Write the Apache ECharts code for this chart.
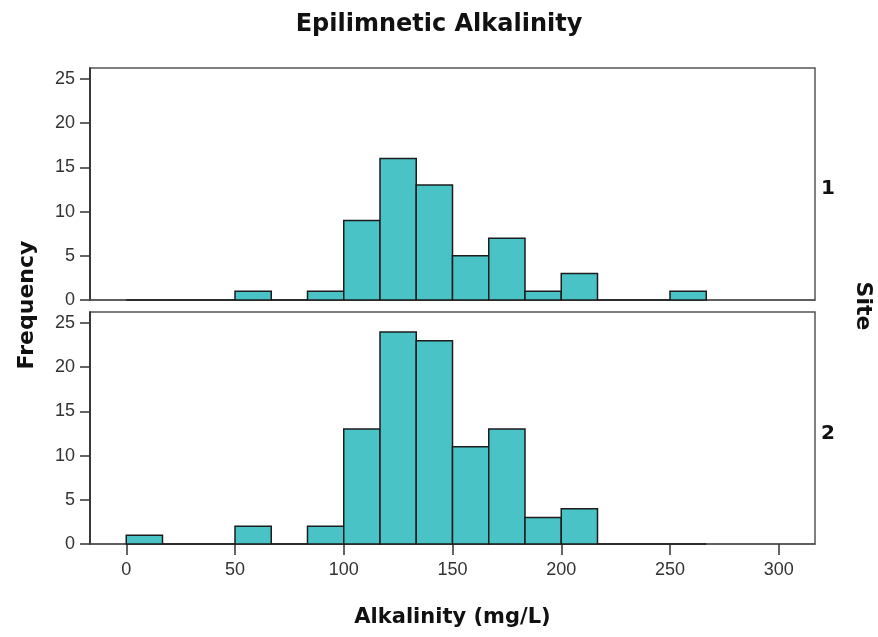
<!DOCTYPE html>
<html>
<head>
<meta charset="utf-8">
<script src="https://cdn.jsdelivr.net/npm/echarts@6/dist/echarts.min.js"></script>
<style>
  html, body { margin: 0; padding: 0; background: #fff; }
  #chart { width: 878px; height: 637px; }
</style>
</head>
<body>
<div id="chart"></div>
<script>
// histogram bins (mg/L), bin width 50/3
const binEdges = [0, 16.667, 33.333, 50, 66.667, 83.333, 100, 116.667, 133.333, 150,
  166.667, 183.333, 200, 216.667, 233.333, 250, 266.667];
const site1Counts = [0, 0, 0, 1, 0, 1, 9, 16, 13, 5, 7, 1, 3, 0, 0, 1];
const site2Counts = [1, 0, 0, 2, 0, 2, 13, 24, 23, 11, 13, 3, 4, 0, 0, 0];
const xTicks = [0, 50, 100, 150, 200, 250, 300];
const yTicks = [0, 5, 10, 15, 20, 25];
const siteNames = ['1', '2'];

const BAR = '#49c3c6';
const EDGE = '#1c1c1c';
const FRAME = '#555';
const TICK_FONT = { color: '#333', fontSize: 18, fontFamily: 'Liberation Sans, Arial, sans-serif' };
const BOLD = 'DejaVu Sans, Verdana, sans-serif';

function toRows(counts) {
  return counts.map((c, i) => [binEdges[i], binEdges[i + 1], c]);
}

function renderBin(params, api) {
  const p0 = api.coord([api.value(0), api.value(2)]);
  const p1 = api.coord([api.value(1), 0]);
  return {
    type: 'rect',
    shape: { x: p0[0], y: p0[1], width: p1[0] - p0[0], height: p1[1] - p0[1] },
    style: { fill: BAR, stroke: EDGE, lineWidth: 1.5 }
  };
}

function makeX(idx, showLabels) {
  return {
    type: 'value',
    gridIndex: idx,
    min: -50 / 3,
    max: 950 / 3,
    splitLine: { show: false },
    axisLine: { show: true, onZero: false, lineStyle: { color: FRAME, width: 1.5 } },
    axisTick: { show: showLabels, length: 11, customValues: xTicks, lineStyle: { color: '#333', width: 1.5 } },
    axisLabel: Object.assign({ show: showLabels, margin: 17, customValues: xTicks }, TICK_FONT),
    name: showLabels ? 'Alkalinity (mg/L)' : '',
    nameLocation: 'middle',
    nameGap: 63,
    nameTextStyle: { fontFamily: BOLD, fontWeight: 'bold', fontSize: 21, color: '#111' }
  };
}

function makeY(idx) {
  return {
    type: 'value',
    gridIndex: idx,
    min: 0,
    max: 26.25,
    splitLine: { show: false },
    axisLine: { show: true, onZero: false, lineStyle: { color: '#222', width: 1.5 } },
    axisTick: { show: true, length: 10, customValues: yTicks, lineStyle: { color: '#333', width: 1.5 } },
    axisLabel: Object.assign({ margin: 15, customValues: yTicks }, TICK_FONT)
  };
}

const chart = echarts.init(document.getElementById('chart'));

chart.setOption({
  animation: false,
  backgroundColor: '#fff',
  title: {
    text: 'Epilimnetic Alkalinity',
    left: 'center',
    top: 8,
    textStyle: { fontFamily: BOLD, fontWeight: 'bold', fontSize: 24, color: '#111' }
  },
  grid: [
    { left: 90, right: 63, top: 68, height: 232, show: true, borderColor: FRAME, borderWidth: 1.5 },
    { left: 90, right: 63, top: 312, height: 232, show: true, borderColor: FRAME, borderWidth: 1.5 }
  ],
  xAxis: [makeX(0, false), makeX(1, true)],
  yAxis: [makeY(0), makeY(1)],
  graphic: [
    {
      type: 'text', x: 27, y: 305, rotation: Math.PI / 2,
      style: { text: 'Frequency', fontFamily: BOLD, fontWeight: 'bold', fontSize: 22, fill: '#111', align: 'center', verticalAlign: 'middle' }
    },
    {
      type: 'text', x: 863, y: 306, rotation: -Math.PI / 2,
      style: { text: 'Site', fontFamily: BOLD, fontWeight: 'bold', fontSize: 22, fill: '#111', align: 'center', verticalAlign: 'middle' }
    },
    {
      type: 'text', x: 821, y: 189,
      style: { text: siteNames[0], fontFamily: BOLD, fontWeight: 'bold', fontSize: 20, fill: '#111', align: 'left', verticalAlign: 'middle' }
    },
    {
      type: 'text', x: 821, y: 434,
      style: { text: siteNames[1], fontFamily: BOLD, fontWeight: 'bold', fontSize: 20, fill: '#111', align: 'left', verticalAlign: 'middle' }
    }
  ],
  series: [
    {
      type: 'custom', name: 'Site 1', xAxisIndex: 0, yAxisIndex: 0,
      renderItem: renderBin, encode: { x: [0, 1], y: 2 }, data: toRows(site1Counts)
    },
    {
      type: 'custom', name: 'Site 2', xAxisIndex: 1, yAxisIndex: 1,
      renderItem: renderBin, encode: { x: [0, 1], y: 2 }, data: toRows(site2Counts)
    }
  ]
});
</script>
</body>
</html>
